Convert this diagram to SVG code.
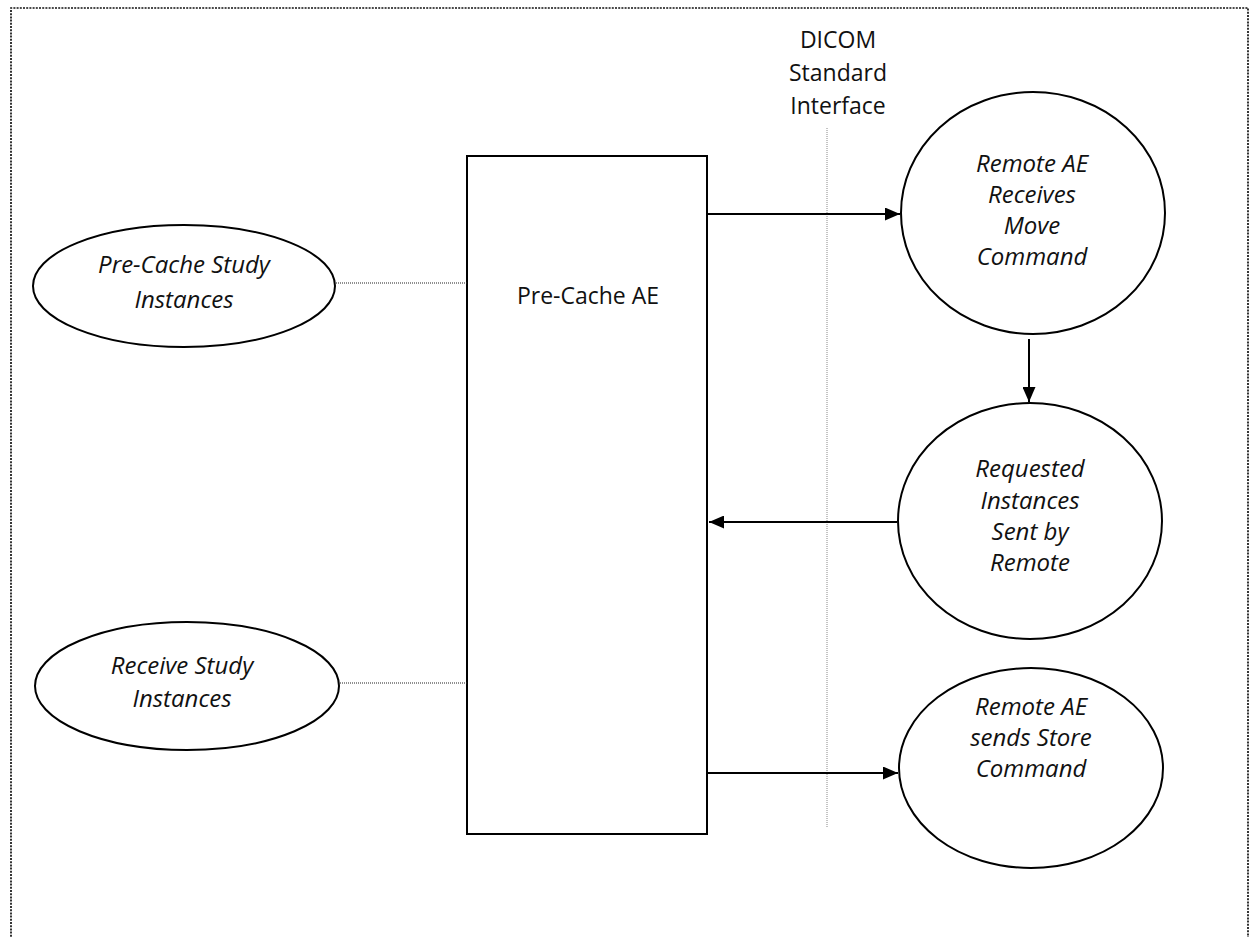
<svg xmlns="http://www.w3.org/2000/svg" width="1256" height="937" viewBox="0 0 1256 937">
<style>
  .node { fill: #fff; stroke: #000; stroke-width: 2; }
  .lbl { font-family: "Open Sans", "Noto Sans", sans-serif; font-size: 23px; fill: #111; text-anchor: middle; }
  .it { font-style: italic; font-size: 24px; }
  .arrow { stroke: #000; stroke-width: 2; fill: none; marker-end: url(#ah); }
  .dot { stroke: #222; stroke-width: 1.2; stroke-dasharray: 1 1; fill: none; }
</style>
<defs>
  <marker id="ah" viewBox="0 0 15 13" refX="15" refY="6.5" markerWidth="15" markerHeight="13" markerUnits="userSpaceOnUse" orient="auto">
    <path d="M0,0 L15,6.5 L0,13 Z" fill="#000"/>
  </marker>
</defs>
<rect width="1256" height="937" fill="#fff"/>
<path id="frame" d="M11,940 V8 H1248 V940" fill="none" stroke="#111" stroke-width="1.7" stroke-dasharray="2 1.2"/>

<g id="dicom-interface">
  <line x1="827" y1="128" x2="827" y2="828" stroke="#888" stroke-width="1" stroke-dasharray="1 1"/>
  <text class="lbl" x="838" y="48">DICOM</text>
  <text class="lbl" x="838" y="81">Standard</text>
  <text class="lbl" x="838" y="114">Interface</text>
</g>

<g id="pre-cache-ae">
  <rect class="node" x="467" y="156" width="240" height="678"/>
  <text class="lbl" x="588" y="304">Pre-Cache AE</text>
</g>

<g id="pre-cache-study">
  <ellipse class="node" cx="184" cy="286" rx="151" ry="61"/>
  <text class="lbl it" x="184" y="273">Pre-Cache Study</text>
  <text class="lbl it" x="184" y="308">Instances</text>
</g>

<g id="receive-study">
  <ellipse class="node" cx="187" cy="686" rx="152" ry="64"/>
  <text class="lbl it" x="182" y="674">Receive Study</text>
  <text class="lbl it" x="182" y="707">Instances</text>
</g>

<g id="remote-move">
  <ellipse class="node" cx="1033" cy="213" rx="132" ry="121"/>
  <text class="lbl it" x="1032" y="172">Remote AE</text>
  <text class="lbl it" x="1032" y="203">Receives</text>
  <text class="lbl it" x="1032" y="234">Move</text>
  <text class="lbl it" x="1032" y="265">Command</text>
</g>

<g id="requested-instances">
  <ellipse class="node" cx="1030" cy="521" rx="132" ry="118"/>
  <text class="lbl it" x="1030" y="477">Requested</text>
  <text class="lbl it" x="1030" y="509">Instances</text>
  <text class="lbl it" x="1030" y="540">Sent by</text>
  <text class="lbl it" x="1030" y="571">Remote</text>
</g>

<g id="remote-store">
  <ellipse class="node" cx="1031" cy="768" rx="132" ry="100"/>
  <text class="lbl it" x="1031" y="715">Remote AE</text>
  <text class="lbl it" x="1031" y="746">sends Store</text>
  <text class="lbl it" x="1031" y="777">Command</text>
</g>

<g id="connectors">
  <line class="dot" x1="336" y1="283" x2="467" y2="283"/>
  <line class="dot" x1="340" y1="683" x2="467" y2="683"/>
  <line class="arrow" x1="708" y1="214" x2="900" y2="214"/>
  <line class="arrow" x1="1029" y1="339" x2="1029" y2="402"/>
  <line class="arrow" x1="897" y1="522" x2="709" y2="522"/>
  <line class="arrow" x1="708" y1="773" x2="898" y2="773"/>
</g>
</svg>
